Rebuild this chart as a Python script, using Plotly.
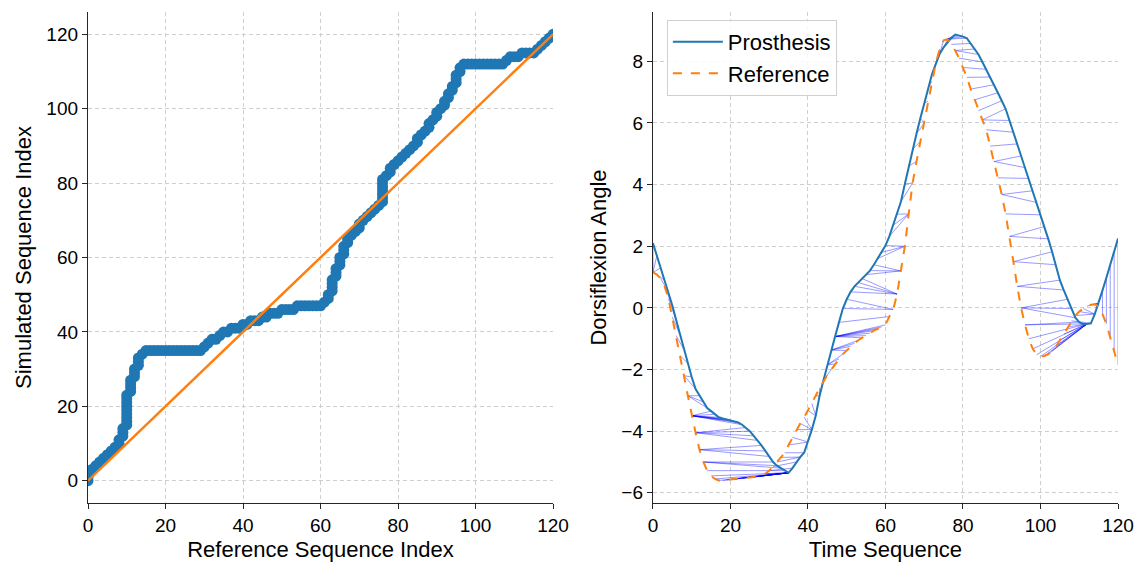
import plotly.graph_objects as go

# ---------------- data ----------------
time_idx = list(range(121))

prosthesis = [
    2.10, 1.70, 1.30, 0.90, 0.50, 0.08, -0.40, -0.88, -1.36, -1.80,
    -2.24, -2.63, -2.85, -3.05, -3.25, -3.35, -3.45, -3.55, -3.59, -3.62,
    -3.65, -3.68, -3.72, -3.79, -3.88, -4.00, -4.15, -4.30, -4.46, -4.64,
    -4.82, -5.00, -5.12, -5.20, -5.28, -5.35, -5.20, -5.00, -4.84, -4.70,
    -4.35, -3.95, -3.50, -2.85, -2.35, -1.85, -1.37, -0.93, -0.47, -0.02,
    0.28, 0.52, 0.70, 0.82, 0.95, 1.08, 1.21, 1.40, 1.60, 1.80,
    2.02, 2.32, 2.68, 3.04, 3.45, 4.02, 4.60, 5.15, 5.65, 6.15,
    6.65, 7.15, 7.58, 7.92, 8.25, 8.45, 8.62, 8.76, 8.87, 8.84,
    8.80, 8.75, 8.58, 8.40, 8.22, 7.98, 7.74, 7.49, 7.24, 6.98,
    6.72, 6.46, 6.08, 5.70, 5.32, 4.93, 4.55, 4.20, 3.80, 3.42,
    3.02, 2.64, 2.24, 1.82, 1.40, 0.90, 0.58, 0.28, -0.02, -0.32,
    -0.46, -0.52, -0.52, -0.50, -0.20, 0.15, 0.57, 0.98, 1.40, 1.82,
    2.25,
]

reference = [
    1.15, 1.08, 0.95, 0.70, 0.30, -0.30, -0.90, -1.55, -2.20, -2.85,
    -3.50, -4.05, -4.60, -5.00, -5.28, -5.45, -5.55, -5.60, -5.60, -5.58,
    -5.57, -5.55, -5.54, -5.52, -5.51, -5.50, -5.49, -5.47, -5.44, -5.38,
    -5.28, -5.15, -5.00, -4.85, -4.70, -4.45, -4.20, -3.95, -3.75, -3.55,
    -3.33, -3.10, -2.85, -2.60, -2.38, -2.18, -2.00, -1.82, -1.65, -1.50,
    -1.38, -1.25, -1.15, -1.05, -0.97, -0.90, -0.82, -0.74, -0.68, -0.62,
    -0.55, -0.28, -0.05, 0.45, 1.20, 2.00, 3.05, 4.05, 4.75, 5.40,
    6.00, 6.70, 7.35, 7.95, 8.40, 8.68, 8.72, 8.55, 8.35, 8.10,
    7.80, 7.48, 7.10, 6.75, 6.40, 6.10, 5.78, 5.25, 4.75, 4.22,
    3.68, 3.05, 2.32, 1.50, 0.70, 0.00, -0.55, -1.00, -1.33, -1.52,
    -1.58, -1.56, -1.50, -1.40, -1.25, -1.05, -0.85, -0.62, -0.42, -0.25,
    -0.12, -0.02, 0.06, 0.10, 0.12, 0.05, -0.20, -0.52, -0.95, -1.40,
    -1.85,
]

# DTW warping path (reference index, simulated index)
path_ref = [
    0, 0, 0, 1, 2, 3, 4, 5, 6, 7, 8, 8, 9, 9, 9,
    10, 10, 10, 10, 10, 10, 10, 10, 10,
    11, 11, 11, 11, 12, 12, 12, 13, 13, 13, 14, 15,
    16, 17, 18, 19, 20, 21, 22, 23, 24, 25, 26, 27, 28, 29,
    30, 31, 32, 33, 34, 35, 36, 37, 38, 39, 40, 41, 42, 43, 44, 45,
    46, 47, 48, 49, 50, 51, 52, 53, 54, 55, 56, 57, 58, 59, 60,
    61, 62, 62, 63, 63, 63, 63, 64, 64, 64, 65, 65, 65, 66, 66, 66,
    67, 67, 68, 69, 70, 70, 71, 72, 73, 74, 75, 76,
    76, 76, 76, 76, 76, 76,
    77, 78, 78, 79, 80, 81, 82, 83, 84, 85, 85, 86, 87, 88, 88, 89,
    90, 90, 91, 92, 92, 93, 93, 94, 94, 95, 95, 95, 96, 96, 97,
    98, 99, 100, 101, 102, 103, 104, 105, 106, 107,
    108, 109, 110, 111, 112, 113, 114, 115, 116, 117, 118, 119, 120,
]
path_sim = [
    0, 1, 2, 3, 4, 5, 6, 7, 8, 9, 10, 11, 12, 13, 14,
    15, 16, 17, 18, 19, 20, 21, 22, 23,
    24, 25, 26, 27, 28, 29, 30, 31, 32, 33, 34, 35,
    35, 35, 35, 35, 35, 35, 35, 35, 35, 35, 35, 35, 35, 35,
    36, 37, 38, 38, 39, 40, 40, 41, 41, 41, 42, 42, 43, 43, 43, 44,
    44, 45, 45, 45, 46, 46, 46, 46, 47, 47, 47, 47, 47, 47, 47,
    48, 49, 50, 51, 52, 53, 54, 55, 56, 57, 58, 59, 60, 61, 62, 63,
    64, 65, 66, 67, 68, 69, 70, 71, 72, 73, 74, 75,
    76, 77, 78, 79, 80, 81,
    82, 83, 84, 85, 86, 87, 88, 89, 90, 91, 92, 93, 94, 95, 96, 97,
    98, 99, 100, 101, 102, 103, 104, 105, 106, 107, 108, 109, 110, 111, 112,
    112, 112, 112, 112, 112, 112, 112, 112, 112, 112,
    113, 114, 114, 114, 115, 115, 115, 115, 116, 117, 118, 119, 120,
]

diag = [0, 120]

# ---------------- figure ----------------
BLUE = "#1f77b4"
ORANGE = "#ff7f0e"
FONT = "Arial, Liberation Sans, sans-serif"

fig = go.Figure()

# left: warping path
fig.add_trace(go.Scatter(
    x=path_ref, y=path_sim, mode="lines+markers",
    line=dict(color=BLUE, width=3),
    marker=dict(color=BLUE, size=11),
    showlegend=False, xaxis="x", yaxis="y",
))
fig.add_trace(go.Scatter(
    x=diag, y=diag, mode="lines",
    line=dict(color=ORANGE, width=2.5),
    showlegend=False, xaxis="x", yaxis="y",
))

# right: alignment connections
cx, cy = [], []
for i, j in zip(path_ref, path_sim):
    cx += [i, j, None]
    cy += [reference[i], prosthesis[j], None]
fig.add_trace(go.Scatter(
    x=cx, y=cy, mode="lines",
    line=dict(color="rgba(0,0,255,0.5)", width=0.8),
    showlegend=False, hoverinfo="skip", xaxis="x2", yaxis="y2",
))
fig.add_trace(go.Scatter(
    x=time_idx, y=prosthesis, mode="lines", name="Prosthesis",
    line=dict(color=BLUE, width=2),
    xaxis="x2", yaxis="y2",
))
fig.add_trace(go.Scatter(
    x=time_idx, y=reference, mode="lines", name="Reference",
    line=dict(color=ORANGE, width=2, dash="dash"),
    xaxis="x2", yaxis="y2",
))

axis_common = dict(
    showline=True, linecolor="#262626", linewidth=1.3,
    ticks="outside", ticklen=5, tickwidth=1.3, tickcolor="#262626",
    showgrid=True, gridcolor="#cfcfcf", griddash="4px,3px", gridwidth=1,
    zeroline=False, mirror=False, automargin=False,
    tickfont=dict(size=19, color="#000000", family=FONT),
)

fig.update_layout(
    width=1141, height=562,
    margin=dict(l=88, r=23, t=12, b=59),
    paper_bgcolor="white", plot_bgcolor="white",
    font=dict(family=FONT, color="#000000"),
    xaxis=dict(domain=[0, 0.4515], range=[0, 120], tickvals=[0, 20, 40, 60, 80, 100, 120],
               title=dict(text="Reference Sequence Index", font=dict(size=22), standoff=6),
               anchor="y", **axis_common),
    yaxis=dict(domain=[0, 1], range=[-6, 126], tickvals=[0, 20, 40, 60, 80, 100, 120],
               title=dict(text="Simulated Sequence Index", font=dict(size=22), standoff=8),
               anchor="x", **axis_common),
    xaxis2=dict(domain=[0.5485, 1], range=[0, 120], tickvals=[0, 20, 40, 60, 80, 100, 120],
                title=dict(text="Time Sequence", font=dict(size=22), standoff=6),
                anchor="y2", **axis_common),
    yaxis2=dict(domain=[0, 1], range=[-6.33, 9.6], tickvals=[-6, -4, -2, 0, 2, 4, 6, 8],
                title=dict(text="Dorsiflexion Angle", font=dict(size=22), standoff=8),
                anchor="x2", **axis_common),
    legend=dict(
        x=0.562, y=0.984, xanchor="left", yanchor="top",
        bgcolor="rgba(255,255,255,0.85)", bordercolor="#d0d0d0", borderwidth=1,
        font=dict(size=22, family=FONT, color="#000000"),
        itemwidth=50,
    ),
)

fig.write_html("out.html")
